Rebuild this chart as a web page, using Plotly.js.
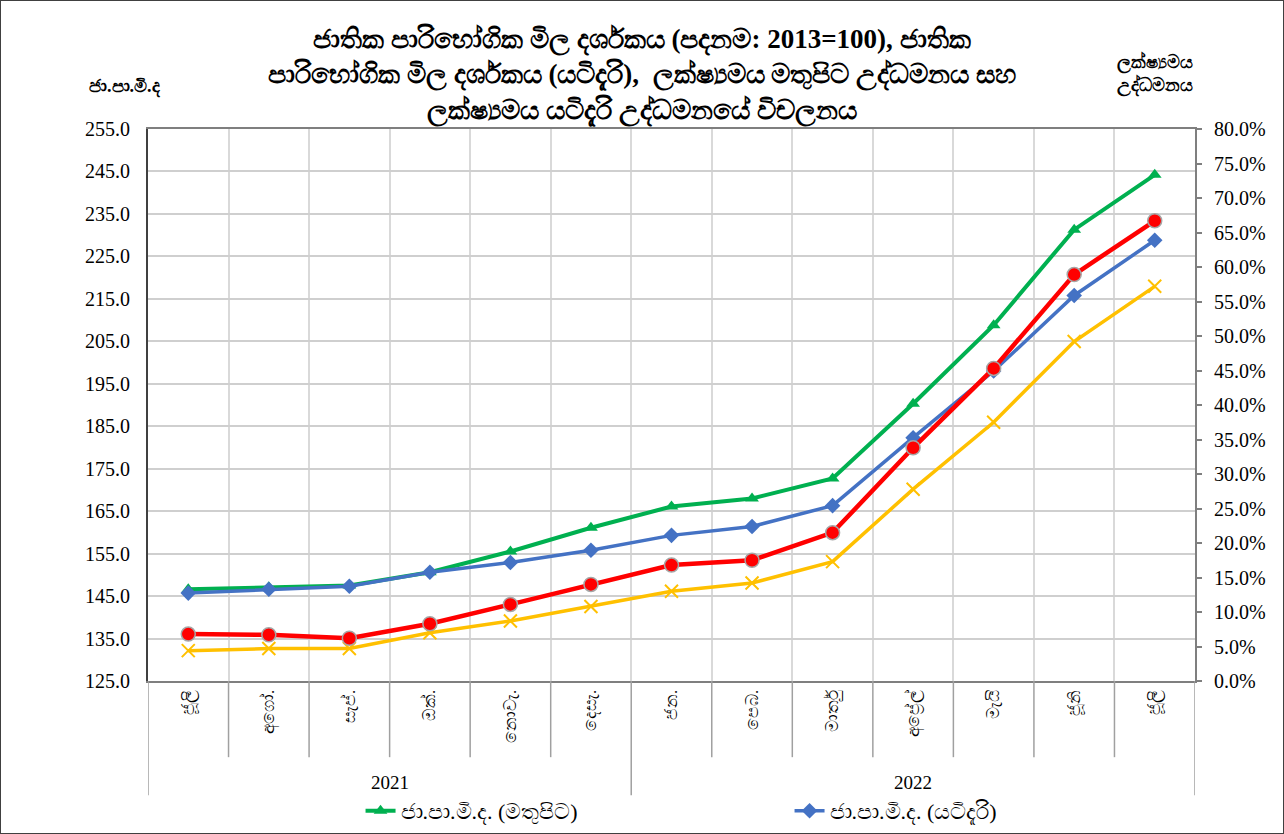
<!DOCTYPE html>
<html>
<head>
<meta charset="utf-8">
<script src="https://cdn.plot.ly/plotly-3.0.1.min.js"></script>
<style>
  html, body { margin: 0; padding: 0; background: #fff; }
  #wrap { position: relative; width: 1284px; height: 834px; }
  #chart { width: 1284px; height: 834px; }
  #frame { position: absolute; left: 0; top: 0; width: 1284px; height: 834px; box-sizing: border-box; border: 1px solid #404040; pointer-events: none; }
</style>
</head>
<body>
<div id="wrap"><div id="chart"></div><div id="frame"></div></div>
<script>
// ---- data ----
const months = ["ජූලි", "අගෝ.", "සැප්.", "ඔක්.", "නොවැ.", "දෙසැ.", "ජන.", "පෙබ.", "මාර්තු", "අප්‍රේල්", "මැයි", "ජූනි", "ජූලි"];
const years = ["2021", "2022"];
const monthsPerYear = [6, 7];
const ncpiHeadline = [146.6, 147.1, 147.5, 150.6, 155.5, 161.1, 166.1, 168.0, 172.7, 190.3, 208.8, 231.3, 244.2];
const ncpiCore = [145.7, 146.6, 147.3, 150.6, 152.9, 155.8, 159.3, 161.4, 166.3, 182.3, 198.0, 215.8, 228.8];
const headlineInflation = [6.8, 6.7, 6.2, 8.3, 11.1, 14.0, 16.8, 17.5, 21.5, 33.8, 45.3, 58.9, 66.7];
const coreInflation = [4.4, 4.7, 4.7, 7.0, 8.7, 10.8, 13.0, 14.2, 17.3, 27.8, 37.5, 49.2, 57.2];
const seriesNames = ["ජා.පා.මි.ද. (මතුපිට)", "ජා.පා.මි.ද. (යටිදැරි)", "ලක්ෂ්‍යමය මතුපිට උද්ධමනය", "ලක්ෂ්‍යමය යටිදැරි උද්ධමනය"];

const idx = months.map((_, i) => i);
const serif = "Liberation Serif, 'Times New Roman', serif";

const traces = [
  {
    x: idx, y: coreInflation.map(v => v / 100), yaxis: 'y2', name: seriesNames[3], showlegend: false,
    mode: 'lines+markers', line: {color: '#ffc000', width: 3.5},
    marker: {symbol: 'x-thin', size: 13, line: {color: '#ffc000', width: 2}}
  },
  {
    x: idx, y: headlineInflation.map(v => v / 100), yaxis: 'y2', name: seriesNames[2], showlegend: false,
    mode: 'lines+markers', line: {color: '#ff0000', width: 4.5},
    marker: {symbol: 'circle', size: 14, color: '#ff0000', line: {color: '#a6a6a6', width: 1.5}}
  },
  {
    x: idx, y: ncpiHeadline, name: seriesNames[0],
    mode: 'lines+markers', line: {color: '#00b050', width: 4},
    marker: {symbol: 'triangle-up', size: 12, color: '#00b050'}
  },
  {
    x: idx, y: ncpiCore, name: seriesNames[1],
    mode: 'lines+markers', line: {color: '#4472c4', width: 3.5},
    marker: {symbol: 'diamond', size: 12, color: '#4472c4'}
  }
];

// category separators below the axis
const shapes = [];
const yShort = -0.138, yLong = -0.207;
let boundaries = [-0.5];
let acc = -0.5;
monthsPerYear.forEach(n => { acc += n; boundaries.push(acc); });
for (let b = -0.5; b <= months.length - 0.5 + 1e-9; b += 1) {
  const isLong = boundaries.some(v => Math.abs(v - b) < 1e-9);
  shapes.push({type: 'line', xref: 'x', yref: 'paper', x0: b, x1: b, y0: 0, y1: isLong ? yLong : yShort,
    line: {color: '#a0a0a0', width: 1.5}});
}

// year labels
const annotations = [];
let start = 0;
years.forEach((yr, k) => {
  const n = monthsPerYear[k];
  annotations.push({xref: 'x', yref: 'paper', x: start + (n - 1) / 2, y: -0.183, text: yr, showarrow: false,
    font: {family: serif, size: 19, color: '#000'}, yanchor: 'middle'});
  start += n;
});
annotations.push({xref: 'paper', yref: 'paper', x: -0.022, y: 1.076, text: '<b>ජා.පා.මි.ද</b>', showarrow: false,
  font: {family: serif, size: 18, color: '#000'}, xanchor: 'center', yanchor: 'middle'});
annotations.push({xref: 'paper', yref: 'paper', x: 0.962, y: 1.1, text: '<b>ලක්ෂ්‍යමය<br>උද්ධමනය</b>', showarrow: false,
  font: {family: serif, size: 18, color: '#000'}, xanchor: 'center', yanchor: 'middle'});

const layout = {
  width: 1284, height: 834,
  margin: {l: 148, r: 89, t: 129, b: 153},
  paper_bgcolor: '#ffffff', plot_bgcolor: '#ffffff',
  font: {family: serif, color: '#000'},
  title: {
    text: '<b>ජාතික පාරිභෝගික මිල දර්ශකය (පදනම: 2013=100), ජාතික<br>පාරිභෝගික මිල දර්ශකය (යටිදැරි),  ලක්ෂ්‍යමය මතුපිට උද්ධමනය සහ<br>ලක්ෂ්‍යමය යටිදැරි උද්ධමනයේ විචලනය</b>',
    font: {family: serif, size: 27, color: '#000'},
    x: 0.5, xanchor: 'center', xref: 'container', y: 0.942, yref: 'container', yanchor: 'top'
  },
  xaxis: {
    range: [-0.5, months.length - 0.5],
    tickmode: 'array', tickvals: idx, ticktext: months, tickangle: -90,
    tickfont: {family: serif, size: 17, color: '#000'},
    showgrid: false, zeroline: false,
    showline: true, linecolor: '#7f7f7f', linewidth: 2, mirror: true,
    ticks: '',
    minor: {tick0: -0.5, dtick: 1, showgrid: true, gridcolor: '#d9d9d9', gridwidth: 2, ticks: ''}
  },
  yaxis: {
    range: [125, 255], dtick: 10, tick0: 125, tickformat: '.1f',
    tickfont: {family: serif, size: 20, color: '#000'}, ticklabelstandoff: 12,
    showgrid: true, gridcolor: '#cfcfcf', gridwidth: 1.5, zeroline: false,
    showline: true, linecolor: '#404040', linewidth: 2, ticks: ''
  },
  yaxis2: {
    overlaying: 'y', side: 'right',
    range: [0, 0.8], dtick: 0.05, tick0: 0, tickformat: '.1%',
    tickfont: {family: serif, size: 20, color: '#000'}, ticklabelstandoff: 8,
    showgrid: false, zeroline: false,
    showline: true, linecolor: '#7f7f7f', linewidth: 2,
    ticks: 'outside', ticklen: 5, tickcolor: '#7f7f7f', tickwidth: 1.5
  },
  legend: {
    orientation: 'h', xref: 'container', x: 0.2808, xanchor: 'left',
    yref: 'container', y: 0.0528, yanchor: 'top',
    font: {family: serif, size: 22, color: '#000'},
    entrywidth: 384, entrywidthmode: 'pixels',
    traceorder: 'normal', bgcolor: 'rgba(0,0,0,0)'
  },
  shapes: shapes,
  annotations: annotations,
  showlegend: true
};

Plotly.newPlot('chart', traces, layout, {displayModeBar: false, responsive: false});
</script>
</body>
</html>
